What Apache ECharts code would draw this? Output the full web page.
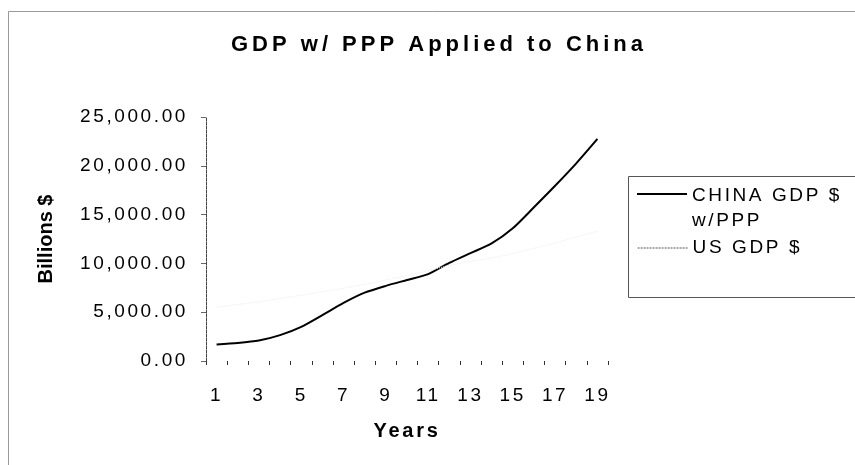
<!DOCTYPE html>
<html>
<head>
<meta charset="utf-8">
<script src="https://cdn.jsdelivr.net/npm/echarts@6/dist/echarts.min.js"></script>
<style>
  html, body { margin: 0; padding: 0; background: #fff; }
  #chart { width: 855px; height: 465px; }
</style>
</head>
<body>
<div id="chart"></div>
<script>
// ---- data ----
const years = ['1','2','3','4','5','6','7','8','9','10','11','12','13','14','15','16','17','18','19'];
const chinaGdpPpp = [1700, 1850, 2100, 2650, 3500, 4700, 5950, 7000, 7700, 8300, 8900, 10050, 11050, 12050, 13600, 15750, 17950, 20250, 22750];
const usGdp = [5500, 5800, 6050, 6400, 6750, 7100, 7450, 7850, 8300, 8750, 9250, 9800, 10200, 10550, 11000, 11550, 12100, 12700, 13300];
const yTicks = { min: 0, max: 25000, interval: 5000 };
const chinaName = 'CHINA GDP $\nw/PPP';
const usName = 'US GDP $';

// the scanned original prints its horizontal text with wide tracking
const _fillText = CanvasRenderingContext2D.prototype.fillText;
CanvasRenderingContext2D.prototype.fillText = function (t, x, y, mw) {
  const tr = this.getTransform();
  const m = /(\d+(?:\.\d+)?)px/.exec(this.font);
  const fs = m ? parseFloat(m[1]) : 12;
  let sp = 0;
  if (Math.abs(tr.b) < 0.01) sp = fs === 22 ? 4 : fs * 0.137;
  this.letterSpacing = sp.toFixed(2) + 'px';
  if (mw === undefined) _fillText.call(this, t, x, y); else _fillText.call(this, t, x, y, mw);
  this.letterSpacing = '0px';
};

const FONT = 'Liberation Sans, Arial, sans-serif';
const chart = echarts.init(document.getElementById('chart'), null, { renderer: 'canvas' });

// legend sample for the two-line China entry: a bar level with the first text line
const chinaIcon = 'path://M0,0h0.01v0.01h-0.01z M0,10h50v2h-50z M49.99,49.99h0.01v0.01h-0.01z';

const option = {
  animation: false,
  backgroundColor: '#ffffff',
  textStyle: { fontFamily: FONT },
  title: {
    text: 'GDP w/ PPP Applied to China',
    left: 231, top: 32, padding: 0, textAlign: 'left',
    textStyle: { fontFamily: FONT, fontSize: 22, fontWeight: 'bold', color: '#000', lineHeight: 26 }
  },
  graphic: [{
    type: 'rect', silent: true, z: -1,
    shape: { x: 8.5, y: 11.5, width: 860, height: 470 },
    style: { fill: 'none', stroke: '#9a9a9a', lineWidth: 1 }
  }, {
    type: 'rect', silent: true, z: -1,
    shape: { x: 628.5, y: 176.5, width: 240, height: 121 },
    style: { fill: '#fff', stroke: '#555', lineWidth: 1 }
  }],
  legend: [{
    orient: 'vertical', left: 637, top: 183, padding: 0,
    itemWidth: 50, itemHeight: 50, itemGap: 0,
    data: [{ name: chinaName, icon: chinaIcon, itemStyle: { color: '#000' } }],
    textStyle: { fontFamily: FONT, fontSize: 19, color: '#000', lineHeight: 25 }
  }, {
    orient: 'vertical', left: 637, top: 235.5, padding: 0,
    itemWidth: 50, itemHeight: 25, itemGap: 0,
    data: [{ name: usName, itemStyle: { opacity: 0 }, lineStyle: { color: '#555', type: [2, 1], width: 1.2, opacity: 1 } }],
    textStyle: { fontFamily: FONT, fontSize: 19, color: '#000', lineHeight: 25 }
  }],
  grid: { left: 206, right: 247, top: 117, bottom: 104, containLabel: false },
  xAxis: {
    type: 'category', data: years, boundaryGap: true,
    name: 'Years', nameLocation: 'middle', nameGap: 60,
    nameTextStyle: { fontFamily: FONT, fontSize: 20, fontWeight: 'bold', color: '#000' },
    axisLine: { show: false },
    axisTick: { show: true, interval: 0, length: 4, lineStyle: { color: '#333' } },
    axisLabel: { interval: 1, margin: 25, fontFamily: FONT, fontSize: 19, color: '#000' },
    splitLine: { show: false }
  },
  yAxis: {
    type: 'value', min: yTicks.min, max: yTicks.max, interval: yTicks.interval,
    name: 'Billions $', nameLocation: 'middle', nameGap: 150,
    nameTextStyle: { fontFamily: FONT, fontSize: 20, fontWeight: 'bold', color: '#000' },
    axisLine: { show: true, lineStyle: { color: '#444', width: 1, type: [3, 1] } },
    axisTick: { show: true, length: 5, lineStyle: { color: '#666' } },
    axisLabel: {
      margin: 18, fontFamily: FONT, fontSize: 19, color: '#000',
      formatter: v => v.toLocaleString('en-US', { minimumFractionDigits: 2, maximumFractionDigits: 2 })
    },
    splitLine: { show: false }
  },
  series: [{
    name: chinaName, type: 'line', data: chinaGdpPpp,
    symbol: 'none', smooth: 0.25,
    lineStyle: { color: '#000', width: 2 }, itemStyle: { color: '#000' }
  }, {
    name: usName, type: 'line', data: usGdp,
    symbol: 'none', smooth: 0.25,
    lineStyle: { color: '#eeeeee', width: 1, type: 'dotted' }, itemStyle: { color: '#777' }
  }]
};
chart.setOption(option);
</script>
</body>
</html>
